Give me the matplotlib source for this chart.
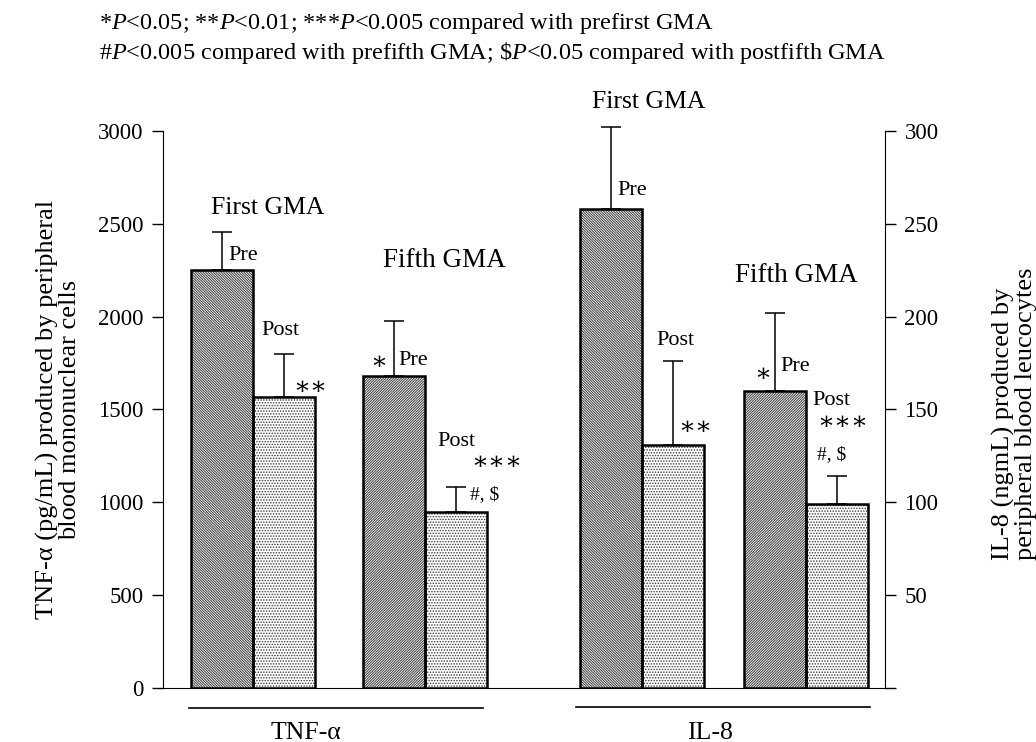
import matplotlib
matplotlib.use('Agg')
import matplotlib.pyplot as plt
import numpy as np

plt.rcParams['font.family'] = ['Liberation Serif', 'DejaVu Serif']
plt.rcParams['hatch.linewidth'] = 0.7
plt.rcParams['mathtext.fontset'] = 'custom'
plt.rcParams['mathtext.rm'] = 'Liberation Serif'
plt.rcParams['mathtext.it'] = 'Liberation Serif:italic'

# values
tnf_pre = [2250, 1680]      # first GMA, fifth GMA (pg/mL)
tnf_pre_err = [205, 295]
tnf_post = [1565, 950]
tnf_post_err = [232, 130]
il8_pre = [258, 160]        # first GMA, fifth GMA (ng/mL)
il8_pre_err = [44, 42]
il8_post = [131, 99]
il8_post_err = [45, 15]

fig = plt.figure(figsize=(10.36, 7.42), dpi=100)
ax = fig.add_axes([163/1036, 54/742, 722/1036, 557/742])
ax2 = ax.twinx()

w = 1.0
tnf_left = np.array([0.45, 3.23])
il8_left = np.array([6.73, 9.37])
hatch_pre = ['\\' * 13, '/' * 13]


def draw_bar(a, x, h, err, hatch):
    a.bar(x, h, w, color='white', edgecolor='#3a3a3a', hatch=hatch, lw=0, zorder=2)
    a.bar(x, h, w, fill=False, edgecolor='black', lw=1.8, zorder=3)
    cont = a.errorbar(x, h, yerr=[[0], [err]], fmt='none', capsize=7,
                      elinewidth=1.1, capthick=1.1, ecolor='black', zorder=1)
    for child in cont.get_children():
        child.set_clip_on(False)


for i in range(2):
    draw_bar(ax, tnf_left[i] + w/2, tnf_pre[i], tnf_pre_err[i], hatch_pre[i])
    draw_bar(ax, tnf_left[i] + 1.5*w, tnf_post[i], tnf_post_err[i], '......')
    draw_bar(ax2, il8_left[i] + w/2, il8_pre[i], il8_pre_err[i], hatch_pre[i])
    draw_bar(ax2, il8_left[i] + 1.5*w, il8_post[i], il8_post_err[i], '......')

ax.set_xlim(0, 722/62)
ax.set_ylim(0, 3000)
ax2.set_ylim(0, 300)
ax.set_yticks([0, 500, 1000, 1500, 2000, 2500, 3000])
ax2.set_yticks([0, 50, 100, 150, 200, 250, 300])
ax2.set_yticklabels(['', '50', '100', '150', '200', '250', '300'])
ax.set_xticks([])
for a in (ax, ax2):
    a.spines['top'].set_visible(False)
    a.tick_params(axis='y', direction='out', length=8, width=1, labelsize=16.5, pad=6)
ax.spines['right'].set_visible(False)
ax2.spines['left'].set_visible(False)
ax2.spines['bottom'].set_visible(False)

ax.set_ylabel('TNF-\u03b1 (pg/mL) produced by peripheral\nblood mononuclear cells',
              fontsize=19, labelpad=12, linespacing=1.0)
fig.text(1014/1036, 1 - 560/742, 'IL-8 (ngmL) produced by\nperipheral blood leucocytes',
         fontsize=19, rotation=90, ha='center', va='bottom', multialignment='left',
         linespacing=1.0)

fs = 16
star = 18
ax.text(1.69, 2585, 'First GMA', fontsize=18.5, ha='center', va='center')
ax.text(1.05, 2332, 'Pre', fontsize=fs, va='center')
ax.text(1.58, 1928, 'Post', fontsize=fs, va='center')
ax.text(2.10, 1616, '\u2217\u2217', fontsize=star, va='center')
ax.text(3.55, 2305, 'Fifth GMA', fontsize=19.5, va='center')
ax.text(3.48, 1750, '\u2217', fontsize=star, ha='center', va='center')
ax.text(3.79, 1766, 'Pre', fontsize=fs, va='center')
ax.text(4.42, 1330, 'Post', fontsize=fs, va='center')
ax.text(4.97, 1212, '\u2217\u2217\u2217', fontsize=star, va='center')
ax.text(4.95, 1040, '#, $', fontsize=14, va='center')
ax.text(6.92, 3156, 'First GMA', fontsize=18.5, va='center', clip_on=False)
ax.text(7.33, 2682, 'Pre', fontsize=fs, va='center')
ax.text(7.95, 1869, 'Post', fontsize=fs, va='center')
ax.text(8.31, 1400, '\u2217\u2217', fontsize=star, va='center')
ax.text(9.23, 2224, 'Fifth GMA', fontsize=19.5, va='center')
ax.text(9.68, 1686, '\u2217', fontsize=star, ha='center', va='center')
ax.text(9.95, 1734, 'Pre', fontsize=fs, va='center')
ax.text(10.48, 1551, 'Post', fontsize=fs, va='center')
ax.text(10.55, 1427, '\u2217\u2217\u2217', fontsize=star, va='center')
ax.text(10.55, 1255, '#, $', fontsize=14, va='center')

# group lines and names under the axis
tr = ax.get_xaxis_transform()
ax.plot([0.42, 5.16], [-0.036, -0.036], color='black', lw=1.2, transform=tr, clip_on=False)
ax.plot([6.66, 11.40], [-0.034, -0.034], color='black', lw=1.2, transform=tr, clip_on=False)
ax.text(2.31, -0.08, 'TNF-\u03b1', fontsize=18.5, ha='center', va='center', transform=tr)
ax.text(8.82, -0.08, 'IL-8', fontsize=18.5, ha='center', va='center', transform=tr)

fig.text(99/1036, 1 - 24/742,
         r'*$P$<0.05; **$P$<0.01; ***$P$<0.005 compared with prefirst GMA',
         fontsize=17.5, va='center')
fig.text(99/1036, 1 - 53/742,
         r'#$P$<0.005 compared with prefifth GMA; \$$P$<0.05 compared with postfifth GMA',
         fontsize=17.5, va='center')

fig.savefig('out.png', dpi=100)
